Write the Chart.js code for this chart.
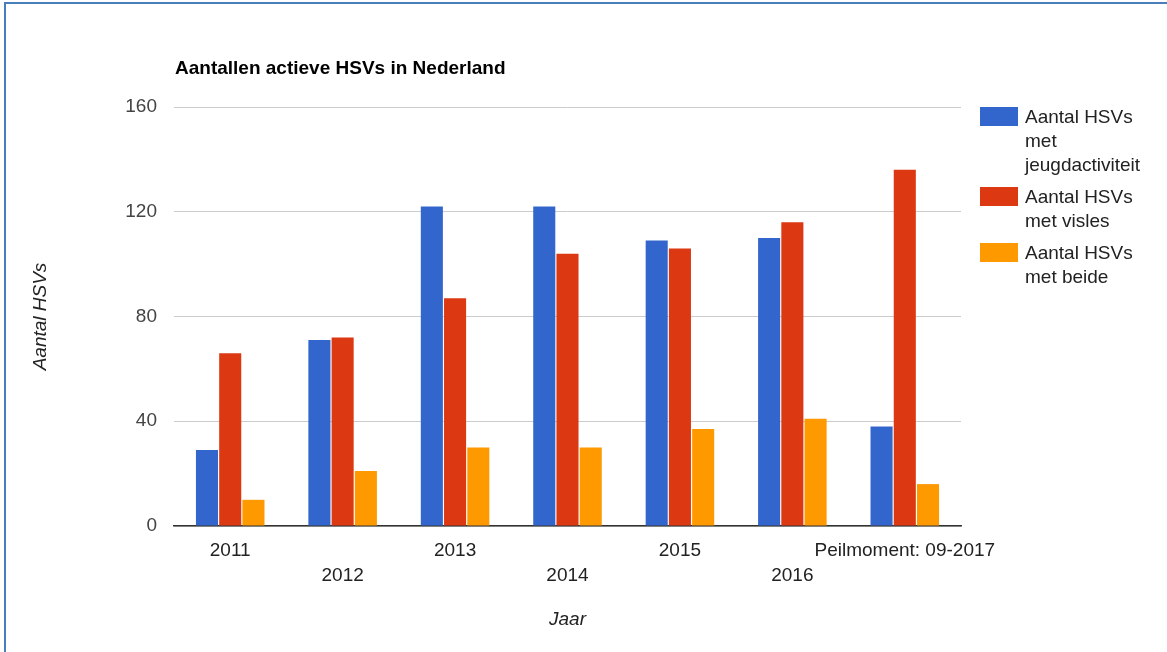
<!DOCTYPE html>
<html>
<head>
<meta charset="utf-8">
<script src="https://cdn.jsdelivr.net/npm/chart.js@4/dist/chart.umd.min.js"></script>
<style>
  html, body { margin: 0; padding: 0; background: #fff; }
  #wrap { position: relative; width: 1167px; height: 652px; overflow: hidden; }
  #frameLeft { position: absolute; left: 4px; top: 2px; width: 2px; height: 650px; background: #4a7ebb; }
  #frameTop { position: absolute; left: 4px; top: 2px; width: 1163px; height: 2px; background: #4a7ebb; }
  #legend { position: absolute; left: 980px; top: 105px; font: 19px "Liberation Sans", Arial, sans-serif; color: #222; }
  .item { position: relative; margin-bottom: 8px; }
  .swatch { position: absolute; left: 0; top: 2px; width: 38px; height: 19px; }
  .label { margin-left: 45px; width: 118px; line-height: 24px; }
</style>
</head>
<body>
<div id="wrap">
  <canvas id="chart" width="1167" height="652"></canvas>
  <div id="legend"></div>
  <div id="frameLeft"></div>
  <div id="frameTop"></div>
</div>
<script>
// data
const categories = ['2011', '2012', '2013', '2014', '2015', '2016', 'Peilmoment: 09-2017'];
const seriesNames = ['Aantal HSVs met jeugdactiviteit', 'Aantal HSVs met visles', 'Aantal HSVs met beide'];
const jeugdactiviteit = [29, 71, 122, 122, 109, 110, 38];
const visles = [66, 72, 87, 104, 106, 116, 136];
const beide = [10, 21, 30, 30, 37, 41, 16];
const yTicks = [0, 40, 80, 120, 160];

const colors = ['#3366cc', '#dc3912', '#ff9900'];
const FONT = '"Liberation Sans", Arial, sans-serif';

// titel linksboven, uitgelijnd op het plotgebied
const titlePlugin = {
    id: 'leftTitle',
    afterDraw(chart) {
        const ctx = chart.ctx;
        ctx.save();
        ctx.font = 'bold 19px ' + FONT;
        ctx.fillStyle = '#000';
        ctx.textBaseline = 'middle';
        ctx.textAlign = 'left';
        ctx.fillText('Aantallen actieve HSVs in Nederland', chart.chartArea.left + 1, 69);
        ctx.restore();
    }
};

const chart = new Chart(document.getElementById('chart'), {
    type: 'bar',
    data: {
        labels: categories,
        datasets: [jeugdactiviteit, visles, beide].map((values, i) => ({
            label: seriesNames[i],
            data: values,
            backgroundColor: colors[i],
            borderWidth: 0,
            barPercentage: 0.95,
            categoryPercentage: 0.62
        }))
    },
    options: {
        responsive: false,
        animation: false,
        devicePixelRatio: 1,
        layout: { padding: { left: 25, top: 107, right: 206, bottom: 17 } },
        plugins: {
            legend: { display: false },
            tooltip: { enabled: false }
        },
        scales: {
            x: {
                afterFit: (scale) => { scale.height = 109; },
                grid: { display: false, drawTicks: false },
                border: { display: true, color: '#333', width: 1.5 },
                ticks: {
                    autoSkip: false,
                    maxRotation: 0,
                    minRotation: 0,
                    padding: 12,
                    color: '#222',
                    font: { family: FONT, size: 19, lineHeight: '25px' },
                    // Google zet de labels om en om op twee rijen
                    callback: function (value, index) {
                        const text = this.getLabelForValue(value);
                        return index % 2 ? ['', text] : [text, ''];
                    }
                },
                title: {
                    display: true,
                    text: 'Jaar',
                    color: '#222',
                    font: { family: FONT, size: 19, style: 'italic' }
                }
            },
            y: {
                min: yTicks[0],
                max: yTicks[yTicks.length - 1],
                afterFit: (scale) => { scale.width = 149; },
                afterBuildTicks: (scale) => { scale.ticks = yTicks.map(v => ({ value: v })); },
                grid: { color: '#cccccc', lineWidth: 1, drawTicks: false },
                border: { display: false },
                ticks: {
                    padding: 17,
                    color: '#444',
                    font: { family: FONT, size: 19 }
                },
                title: {
                    display: true,
                    text: 'Aantal HSVs',
                    color: '#222',
                    font: { family: FONT, size: 19, style: 'italic' }
                }
            }
        }
    },
    plugins: [titlePlugin]
});

// HTML-legenda rechts, met tekst die afbreekt zoals in het origineel
const legend = document.getElementById('legend');
chart.data.datasets.forEach(ds => {
    const item = document.createElement('div');
    item.className = 'item';
    item.innerHTML = `<div class="swatch" style="background:${ds.backgroundColor}"></div><div class="label">${ds.label}</div>`;
    legend.appendChild(item);
});
</script>
</body>
</html>
